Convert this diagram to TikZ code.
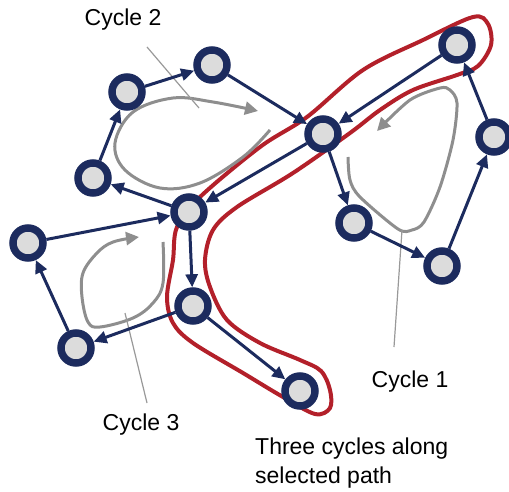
\documentclass[tikz,border=0pt]{standalone}
\usepackage{fontspec}
\setmainfont{Liberation Sans}
\usetikzlibrary{arrows.meta}
\definecolor{navy}{HTML}{1C2B5E}
\definecolor{redline}{HTML}{B3202A}
\definecolor{cyc}{HTML}{8E8E8E}
\definecolor{lbl}{HTML}{999999}
\definecolor{nodefill}{HTML}{DCDCDC}
\tikzset{
  vtx/.style={circle, draw=navy, line width=7.5pt, fill=nodefill, minimum size=30pt, inner sep=0pt},
  link/.style={navy, line width=3pt, -{Triangle[length=13pt,width=12pt]}},
  cycarrow/.style={cyc, line width=3pt, -{Triangle[length=13pt,width=13pt]}},
  lblline/.style={lbl, line width=1.2pt},
  hilite/.style={redline, line width=4pt},
  txt/.style={font=\fontsize{23}{29}\selectfont, inner sep=0pt}
}
\begin{document}
\begin{tikzpicture}[x=1pt,y=-1pt]
\useasboundingbox (0,0) rectangle (509,492);
% red selected path outline
\draw[hilite] plot[smooth cycle, tension=0.55] coordinates {
 (473,17) (488,24) (491,45) (478,66) (457,75) (413,90) (380,110) (350,133)
 (293,173) (237,207) (213,230) (205,260) (210,287) (227,320) (260,343)
 (300,360) (321,371) (330,390) (330,408) (315,414) (283,397) (243,373)
 (193,343) (173,323) (167,297) (173,260) (177,227) (200,197) (260,147)
 (307,117) (363,70) (423,40)};
% cycle arrows
\draw[cycarrow] plot[smooth, tension=0.6] coordinates {
 (270,130) (243,157) (200,183) (160,188) (125,170) (115,143) (133,112) (173,98) (213,102) (258,111)};
\draw[cycarrow] plot[smooth, tension=0.5] coordinates {
 (348,157) (350,180) (360,197) (398,229) (412,230) (424,222) (440,187) (453,140) (457,103) (450,90) (440,88) (410,100) (377,131)};
\draw[cycarrow] plot[smooth, tension=0.6] coordinates {
 (163,242) (163,283) (153,303) (133,318) (100,327) (88,322) (82,297) (83,273) (97,253) (113,242) (139,237)};
% label lines
\coordinate (l2a) at (147,47); \coordinate (l2b) at (199,108);
\coordinate (l1a) at (402,230); \coordinate (l1b) at (394,347);
\coordinate (l3a) at (125,313); \coordinate (l3b) at (147,403);
\draw[lblline] (l2a) -- (l2b);
\draw[lblline] (l1a) -- (l1b);
\draw[lblline] (l3a) -- (l3b);
% nodes
\node[vtx] (a) at (457,45) {};
\node[vtx] (b) at (494,137) {};
\node[vtx] (c) at (442,266) {};
\node[vtx] (d) at (354,223) {};
\node[vtx] (e) at (323,134) {};
\node[vtx] (f) at (212,65) {};
\node[vtx] (g) at (127,92) {};
\node[vtx] (h) at (93,178) {};
\node[vtx] (i) at (189,212) {};
\node[vtx] (j) at (28,243) {};
\node[vtx] (k) at (193,306) {};
\node[vtx] (l) at (76,348) {};
\node[vtx] (m) at (300,391) {};
% edges
\draw[link] (a) -- (e);
\draw[link] (f) -- (e);
\draw[link] (e) -- (i);
\draw[link] (i) -- (h);
\draw[link] (h) -- (g);
\draw[link] (g) -- (f);
\draw[link] (e) -- (d);
\draw[link] (d) -- (c);
\draw[link] (c) -- (b);
\draw[link] (b) -- (a);
\draw[link] (j) -- (i);
\draw[link] (l) -- (j);
\draw[link] (k) -- (l);
\draw[link] (i) -- (k);
\draw[link] (k) -- (m);
% texts
\node[txt] (t2) at (123,20) {Cycle 2};
\node[txt] (t1) at (410,382) {Cycle 1};
\node[txt] (t3) at (141,425) {Cycle 3};
\node[txt, align=left, anchor=west] (tt) at (255,463) {Three cycles along\\selected path};
\end{tikzpicture}
\end{document}
